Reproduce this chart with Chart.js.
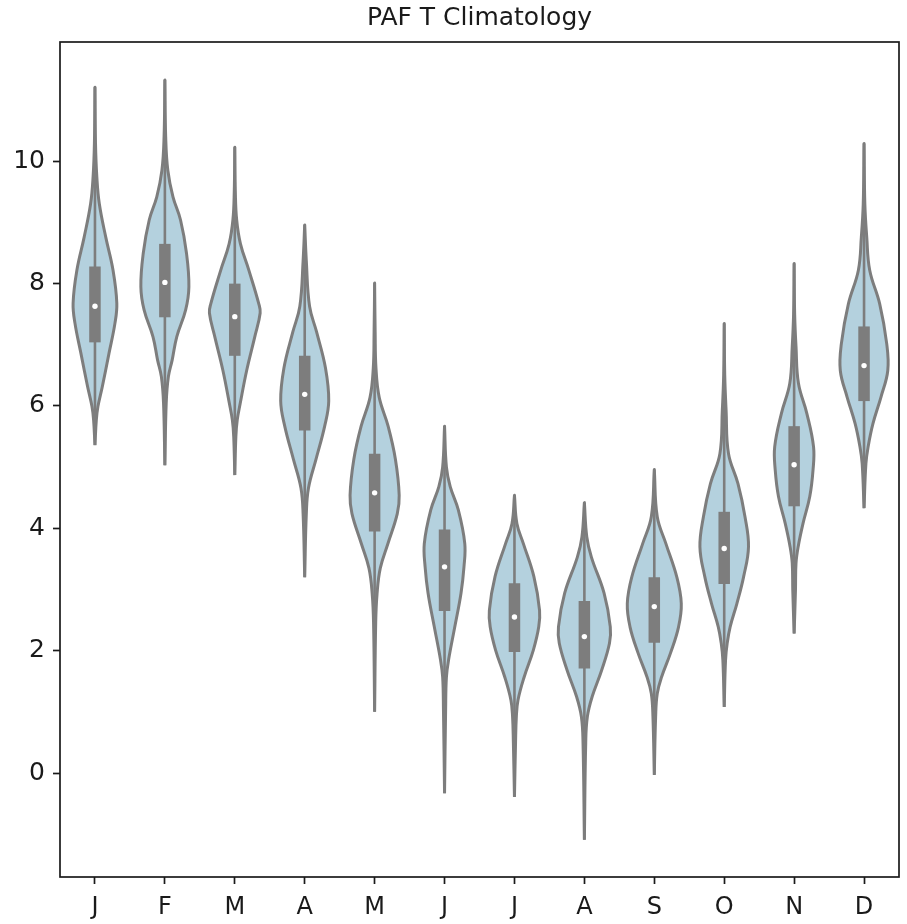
<!DOCTYPE html>
<html>
<head>
<meta charset="utf-8">
<script src="https://cdn.jsdelivr.net/npm/chart.js@4.4.1/dist/chart.umd.min.js"></script>
<style>
  html, body { margin: 0; padding: 0; background: #ffffff; }
  #wrap { width: 907px; height: 924px; }
</style>
</head>
<body>
<div id="wrap"><canvas id="c" width="907" height="924"></canvas></div>
<script>
// ---------------- DATA ----------------
const titleText = 'PAF T Climatology';
const months = ['J', 'F', 'M', 'A', 'M', 'J', 'J', 'A', 'S', 'O', 'N', 'D'];
const yTickValues = [0, 2, 4, 6, 8, 10];

const medians = [7.63, 8.02, 7.46, 6.19, 4.58, 3.37, 2.55, 2.23, 2.72, 3.67, 5.04, 6.66];
const q1s     = [7.04, 7.45, 6.82, 5.60, 3.95, 2.65, 1.98, 1.71, 2.13, 3.09, 4.36, 6.08];
const q3s     = [8.28, 8.65, 8.00, 6.82, 5.22, 3.98, 3.10, 2.81, 3.20, 4.27, 5.67, 7.30];
const lowEnds  = [5.36, 5.03, 4.87, 3.20, 1.00, -0.33, -0.39, -1.09, -0.03, 1.08, 2.28, 4.33];
const highEnds = [11.21, 11.33, 10.23, 8.96, 8.01, 5.67, 4.54, 4.42, 4.96, 7.35, 8.33, 10.29];

// relative density (1 = widest violin) at sampled values, per month
const densJan = [[5.36,0],[5.77,0.05],[5.99,0.11],[6.31,0.27],[6.86,0.52],[7.35,0.74],[7.68,0.81],[8.22,0.67],[8.76,0.40],[9.31,0.16],[9.74,0.07],[10.3,0.02],[11.21,0]];
const densFeb = [[5.03,0],[6.05,0.05],[6.48,0.13],[6.75,0.27],[7.13,0.44],[7.57,0.77],[7.95,0.89],[8.50,0.80],[9.04,0.58],[9.42,0.30],[9.85,0.11],[10.4,0.03],[11.33,0]];
const densMar = [[4.87,0],[5.50,0.04],[5.77,0.09],[6.04,0.20],[6.58,0.44],[7.13,0.74],[7.52,0.94],[7.67,0.89],[8.22,0.52],[8.65,0.21],[9.04,0.07],[9.5,0.02],[10.23,0]];
const densApr = [[3.20,0],[4.24,0.06],[4.66,0.14],[5.13,0.42],[5.67,0.74],[6.08,0.89],[6.62,0.77],[7.21,0.44],[7.63,0.18],[8.37,0.06],[8.96,0]];
const densMay = [[1.00,0],[2.46,0.04],[2.93,0.09],[3.35,0.21],[3.76,0.50],[4.24,0.84],[4.54,0.91],[5.13,0.77],[5.67,0.50],[6.14,0.17],[6.62,0.05],[7.2,0.02],[8.01,0]];
const densJun = [[-0.33,0],[1.03,0.04],[1.57,0.07],[1.85,0.15],[2.39,0.38],[2.94,0.61],[3.37,0.72],[3.75,0.75],[4.30,0.51],[4.68,0.21],[5.00,0.07],[5.67,0]];
const densJul = [[-0.39,0],[0.49,0.04],[0.92,0.07],[1.19,0.13],[1.57,0.36],[2.01,0.70],[2.39,0.90],[2.66,0.93],[3.21,0.72],[3.75,0.33],[4.08,0.09],[4.54,0]];
const densAug = [[-1.09,0],[0.49,0.05],[0.92,0.11],[1.25,0.29],[1.68,0.64],[2.12,0.93],[2.39,0.96],[2.94,0.73],[3.53,0.26],[3.86,0.09],[4.42,0]];
const densSep = [[-0.03,0],[0.92,0.05],[1.30,0.11],[1.57,0.27],[1.96,0.60],[2.39,0.90],[2.77,1.00],[3.21,0.83],[3.75,0.43],[4.19,0.11],[4.96,0]];
const densOct = [[1.08,0],[1.85,0.05],[2.12,0.11],[2.39,0.22],[2.77,0.47],[3.21,0.72],[3.70,0.90],[4.19,0.77],[4.73,0.51],[5.22,0.16],[5.93,0.07],[6.5,0.02],[7.35,0]];
const densNov = [[2.28,0],[2.99,0.05],[3.43,0.07],[3.70,0.15],[4.08,0.33],[4.52,0.58],[4.95,0.70],[5.33,0.72],[5.88,0.47],[6.37,0.16],[6.97,0.07],[7.5,0.02],[8.33,0]];
const densDec = [[4.33,0],[5.06,0.07],[5.33,0.15],[5.71,0.33],[6.15,0.63],[6.58,0.88],[7.02,0.84],[7.67,0.58],[8.22,0.21],[8.76,0.10],[9.3,0.03],[10.29,0]];
const densities = [densJan, densFeb, densMar, densApr, densMay, densJun, densJul, densAug, densSep, densOct, densNov, densDec];

// ---------------- STYLE ----------------
const HALF_WIDTH = 0.386;          // category units for density 1
const FILL = 'rgb(180,209,222)';
const GREY = 'rgb(125,125,125)';
const FONT = 'DejaVu Sans';

// ---------------- BUILD DATASETS ----------------
const datasets = [];

// median dots (on top)
datasets.push({
  type: 'line',
  data: medians.map((m, i) => ({ x: i, y: m })),
  showLine: false,
  pointRadius: 2.7,
  pointBackgroundColor: '#ffffff',
  pointBorderWidth: 0,
  order: 0
});

months.forEach((m, i) => {
  // box (interquartile)
  datasets.push({
    type: 'line',
    data: [{ x: i, y: q1s[i] }, { x: i, y: q3s[i] }],
    borderColor: GREY,
    borderWidth: 11.5,
    borderCapStyle: 'butt',
    pointRadius: 0,
    fill: false,
    order: 1
  });
  // whisker line
  datasets.push({
    type: 'line',
    data: [{ x: i, y: lowEnds[i] }, { x: i, y: highEnds[i] }],
    borderColor: GREY,
    borderWidth: 2.6,
    pointRadius: 0,
    fill: false,
    order: 2
  });
  // violin body
  const prof = densities[i];
  const right = prof.map(([v, d]) => ({ x: i + d * HALF_WIDTH, y: v }));
  const left = prof.slice().reverse().map(([v, d]) => ({ x: i - d * HALF_WIDTH, y: v }));
  datasets.push({
    type: 'line',
    data: right.concat(left),
    borderColor: GREY,
    backgroundColor: FILL,
    borderWidth: 3,
    borderJoinStyle: 'round',
    pointRadius: 0,
    tension: 0.4,
    fill: 'shape',
    order: 3
  });
});

// frame around the plot area
const framePlugin = {
  id: 'frame',
  afterDatasetsDraw(chart) {
    const { ctx, chartArea: a } = chart;
    ctx.save();
    ctx.strokeStyle = '#1a1a1a';
    ctx.lineWidth = 1.7;
    ctx.strokeRect(a.left, a.top, a.right - a.left, a.bottom - a.top);
    ctx.restore();
  }
};

new Chart(document.getElementById('c'), {
  type: 'line',
  data: { datasets },
  options: {
    responsive: false,
    devicePixelRatio: 1,
    animation: false,
    layout: { padding: { left: 0, right: 8, top: 0, bottom: 0 } },
    plugins: {
      legend: { display: false },
      tooltip: { enabled: false },
      title: {
        display: true,
        text: titleText,
        fullSize: false,
        color: '#1a1a1a',
        font: { family: FONT, size: 25, weight: 'normal', lineHeight: 1.2 },
        padding: { top: 3, bottom: 9 }
      }
    },
    scales: {
      x: {
        type: 'linear',
        min: -0.5,
        max: 11.5,
        afterBuildTicks: (axis) => { axis.ticks = months.map((m, i) => ({ value: i })); },
        afterFit: (axis) => { axis.height = 47; },
        ticks: {
          autoSkip: false,
          maxRotation: 0,
          padding: 9,
          color: '#1a1a1a',
          font: { family: FONT, size: 24 },
          callback: (v) => months[Math.round(v)]
        },
        grid: { drawOnChartArea: false, drawTicks: true, tickLength: 7, tickWidth: 1.7, tickColor: '#1a1a1a' },
        border: { display: false }
      },
      y: {
        type: 'linear',
        min: -1.70,
        max: 11.95,
        afterBuildTicks: (axis) => { axis.ticks = yTickValues.map(v => ({ value: v })); },
        afterFit: (axis) => { axis.width = 60; },
        ticks: {
          padding: 8,
          color: '#1a1a1a',
          font: { family: FONT, size: 25 },
          callback: (v) => String(v)
        },
        grid: { drawOnChartArea: false, drawTicks: true, tickLength: 7, tickWidth: 1.7, tickColor: '#1a1a1a' },
        border: { display: false }
      }
    }
  },
  plugins: [framePlugin]
});
</script>
</body>
</html>
